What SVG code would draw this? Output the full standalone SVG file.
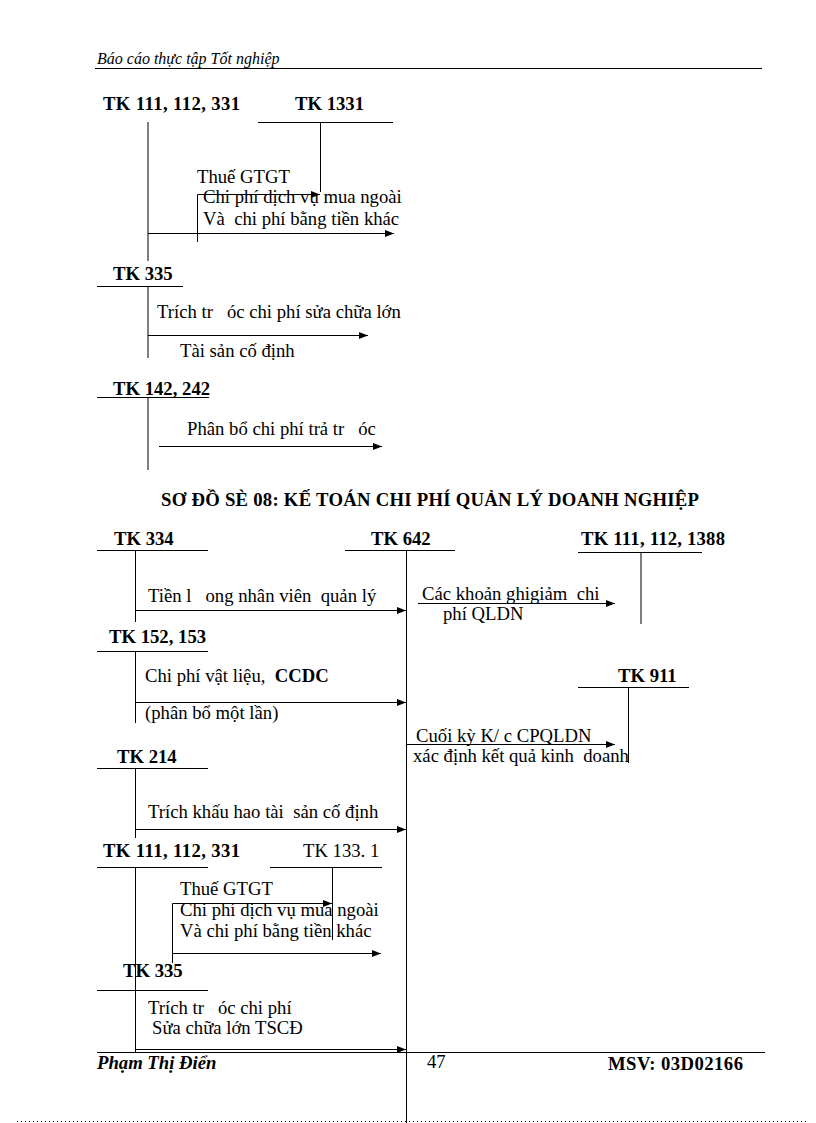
<svg xmlns="http://www.w3.org/2000/svg" width="816" height="1123" viewBox="0 0 816 1123" xml:space="preserve">
<defs>
<marker id="ah" markerUnits="userSpaceOnUse" markerWidth="9" markerHeight="7" refX="9" refY="3.5" orient="auto">
<path d="M0,0 L9,3.5 L0,7 z" fill="#000"/>
</marker>
<style>
text{font-family:"Liberation Serif","Times New Roman",serif;fill:#000;white-space:pre}
.t{font-size:18.7px}
.b{font-size:18.7px;font-weight:bold}
.hd{font-size:16px;font-style:italic}
.ft{font-size:18.7px;font-weight:bold}
line,polyline{stroke:#000;stroke-width:1;fill:none}
.a{marker-end:url(#ah)}
</style>
</defs>
<rect width="816" height="1123" fill="#fff"/>
<g id="header">
<text class="hd" x="97" y="64">Báo cáo thực tập Tốt nghiệp</text>
<line x1="95" y1="68.5" x2="762" y2="68.5"/>
</g>
<g id="tk111-top">
<text class="b" x="103" y="110" textLength="137" lengthAdjust="spacing">TK 111, 112, 331</text>
<line x1="148" y1="122" x2="148" y2="261"/>
</g>
<g id="tk1331-top">
<text class="b" x="295" y="110">TK 1331</text>
<line x1="258" y1="122.5" x2="393" y2="122.5"/>
<line x1="320.5" y1="122" x2="320.5" y2="192"/>
</g>
<g id="tk335-top">
<text class="b" x="113" y="280">TK 335</text>
<line x1="97" y1="286.5" x2="183" y2="286.5"/>
<line x1="148" y1="286" x2="148" y2="358"/>
</g>
<g id="tk142">
<text class="b" x="113" y="395">TK 142, 242</text>
<line x1="97" y1="397.5" x2="209" y2="397.5"/>
<line x1="148" y1="397" x2="148" y2="470"/>
</g>
<g id="title">
<text class="b" x="161" y="506" textLength="538" lengthAdjust="spacing">SƠ ĐỒ SÈ 08: KẾ TOÁN CHI PHÍ QUẢN LÝ DOANH NGHIỆP</text>
</g>
<g id="tk334">
<text class="b" x="114" y="545">TK 334</text>
<line x1="97" y1="550.5" x2="208" y2="550.5"/>
<line x1="135.5" y1="550" x2="135.5" y2="622"/>
</g>
<g id="tk642">
<text class="b" x="371" y="545">TK 642</text>
<line x1="345" y1="550.5" x2="455" y2="550.5"/>
<line x1="406.5" y1="550" x2="406.5" y2="1123"/>
</g>
<g id="tk1388">
<text class="b" x="581" y="545" textLength="144" lengthAdjust="spacing">TK 111, 112, 1388</text>
<line x1="578" y1="552.5" x2="702" y2="552.5"/>
<line x1="641" y1="552" x2="641" y2="624"/>
</g>
<g id="tk152">
<text class="b" x="109" y="643">TK 152, 153</text>
<line x1="97" y1="651.5" x2="208" y2="651.5"/>
<line x1="135.5" y1="651" x2="135.5" y2="723"/>
</g>
<g id="tk911">
<text class="b" x="618" y="682">TK 911</text>
<line x1="578" y1="687.5" x2="689" y2="687.5"/>
<line x1="628.5" y1="687" x2="628.5" y2="763"/>
</g>
<g id="tk214">
<text class="b" x="117" y="763">TK 214</text>
<line x1="97" y1="768.5" x2="208" y2="768.5"/>
<line x1="135.5" y1="768" x2="135.5" y2="838"/>
</g>
<g id="tk111-bottom">
<text class="b" x="103" y="857" textLength="137" lengthAdjust="spacing">TK 111, 112, 331</text>
<line x1="97" y1="867.5" x2="208" y2="867.5"/>
<line x1="135.5" y1="867" x2="135.5" y2="1053"/>
</g>
<g id="tk1331-bottom">
<text class="t" x="303" y="857">TK 133. 1</text>
<line x1="270" y1="867.5" x2="382" y2="867.5"/>
<line x1="332.5" y1="867" x2="332.5" y2="940"/>
</g>
<g id="tk335-bottom">
<text class="b" x="123" y="977">TK 335</text>
<line x1="97" y1="990.5" x2="208" y2="990.5"/>
</g>
<g id="connectors">
<polyline class="a" points="197.5,242 197.5,194.5 320,194.5"/>
<line class="a" x1="148" y1="233.5" x2="394" y2="233.5"/>
<text class="t" x="197" y="183">Thuế GTGT</text>
<text class="t" x="203" y="203">Chi phí dịch vụ mua ngoài</text>
<text class="t" x="203" y="225">Và  chi phí bằng tiền khác</text>
<line class="a" x1="148" y1="335.5" x2="368" y2="335.5"/>
<text class="t" x="157" y="318">Trích tr   óc chi phí sửa chữa lớn</text>
<text class="t" x="180" y="357">Tài sản cố định</text>
<line class="a" x1="159" y1="446.5" x2="382" y2="446.5"/>
<text class="t" x="187" y="435">Phân bổ chi phí trả tr   óc</text>
<line class="a" x1="135.5" y1="610.5" x2="406" y2="610.5"/>
<text class="t" x="148" y="602">Tiền l   ong nhân viên  quản lý</text>
<line class="a" x1="418" y1="603.5" x2="615" y2="603.5"/>
<text class="t" x="422" y="600">Các khoản ghigiảm  chi</text>
<text class="t" x="443" y="620">phí QLDN</text>
<line class="a" x1="135.5" y1="702.5" x2="406" y2="702.5"/>
<text class="t" x="145" y="682">Chi phí vật liệu,  <tspan font-weight="bold">CCDC</tspan></text>
<text class="t" x="145" y="719">(phân bổ một lần)</text>
<line class="a" x1="406.5" y1="744.5" x2="615" y2="744.5"/>
<text class="t" x="416" y="742">Cuối kỳ K/ c CPQLDN</text>
<text class="t" x="413" y="762">xác định kết quả kinh  doanh</text>
<line class="a" x1="135.5" y1="829.5" x2="406" y2="829.5"/>
<text class="t" x="148" y="818">Trích khấu hao tài  sản cố định</text>
<polyline class="a" points="172.5,963 172.5,903.5 332,903.5"/>
<line class="a" x1="172.5" y1="953.5" x2="381" y2="953.5"/>
<text class="t" x="180" y="895">Thuế GTGT</text>
<text class="t" x="180" y="916">Chi phí dịch vụ mua ngoài</text>
<text class="t" x="180" y="937">Và chi phí bằng tiền khác</text>
<line class="a" x1="135.5" y1="1049.5" x2="406" y2="1049.5"/>
<text class="t" x="148" y="1014">Trích tr   óc chi phí</text>
<text class="t" x="152" y="1034">Sửa chữa lớn TSCĐ</text>
</g>
<g id="footer">
<line x1="97" y1="1052.5" x2="765" y2="1052.5"/>
<text class="ft" x="97" y="1069" font-style="italic">Phạm Thị Điển</text>
<text class="t" x="427" y="1068">47</text>
<text class="ft" x="608" y="1070" textLength="135" lengthAdjust="spacing">MSV: 03D02166</text>
<line x1="17" y1="1121.5" x2="808" y2="1121.5" stroke="#cfe8cf" stroke-dasharray="1 3"/>
</g>
</svg>
